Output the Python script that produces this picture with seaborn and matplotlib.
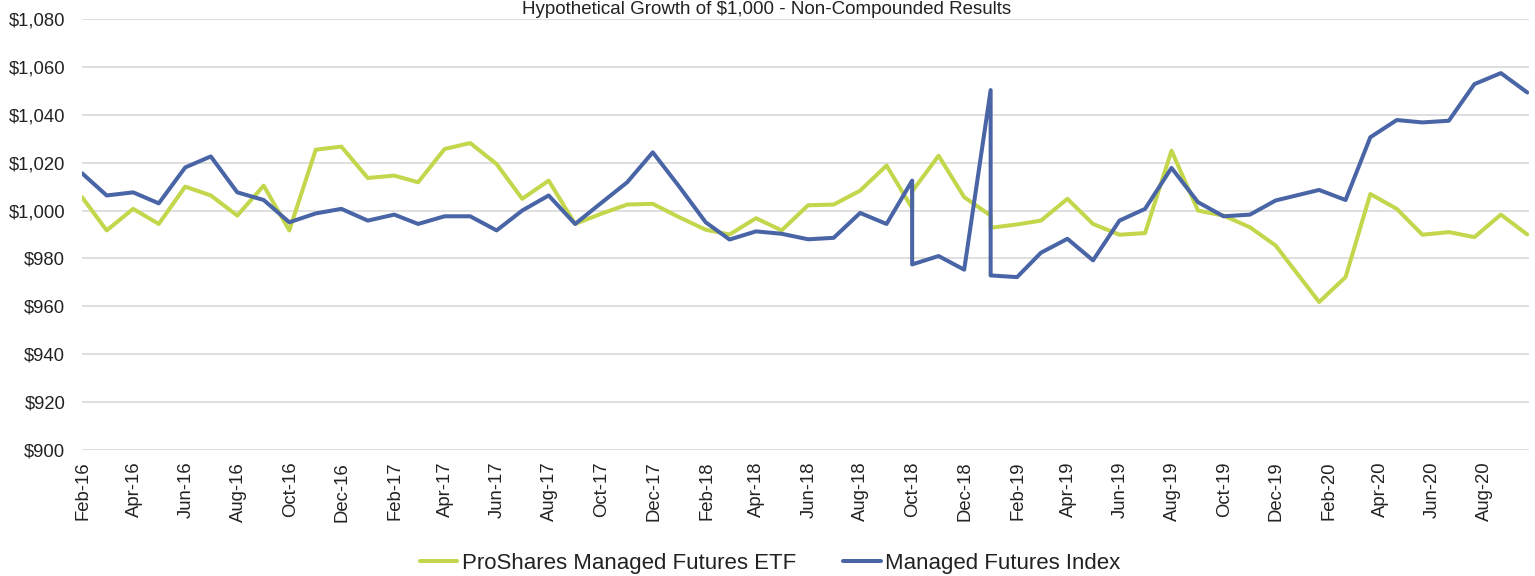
import numpy as np
import pandas as pd
import matplotlib
matplotlib.use("Agg")
import matplotlib.pyplot as plt
import matplotlib.dates as mdates
from matplotlib.lines import Line2D
from matplotlib.ticker import FuncFormatter
import seaborn as sns

# Observation dates: month-end through Nov-19 (two doubled rows), then the 20th in 2020
month_ends = list(pd.date_range("2016-01-31", "2019-11-30", freq="ME").strftime("%Y-%m-%d"))
month_ends.insert(month_ends.index("2018-09-30") + 1, "2018-09-30")
month_ends.insert(month_ends.index("2018-12-31") + 1, "2018-12-31")
late_dates = ["2020-01-20", "2020-02-20", "2020-03-20", "2020-04-20", "2020-05-20",
              "2020-06-20", "2020-07-20", "2020-08-20", "2020-09-20"]
dates = month_ends + late_dates

etf_values = [1005.6, 991.7, 1000.7, 994.4, 1010.0, 1006.3, 997.9, 1010.4, 991.7, 1025.4,
              1026.7, 1013.6, 1014.6, 1011.8, 1025.7, 1028.2, 1019.4, 1004.9, 1012.5, 994.4,
              998.6, 1002.5, 1002.8, 997.2, 992.0, 990.0, 996.8, 991.7, 1002.2, 1002.5,
              1008.3, 1018.8, 1001.0, 1008.0, 1022.9, 1005.6, 997.9, 992.8, 994.2, 995.8,
              1004.9, 994.4, 989.9, 990.6, 1025.0, 1000.0, 997.9, 993.0, 985.4,
              961.8, 972.2, 1006.9, 1000.7, 989.9, 991.0, 988.9, 998.3, 990.0]

index_values = [1015.6, 1006.3, 1007.6, 1003.0, 1018.0, 1022.6, 1007.6, 1004.4, 995.1, 998.8,
                1000.7, 995.8, 998.3, 994.4, 997.6, 997.6, 991.7, 1000.0, 1006.3, 994.4,
                1003.0, 1011.8, 1024.3, 1010.0, 995.1, 987.9, 991.3, 990.3, 988.0, 988.6,
                999.0, 994.4, 1012.5, 977.5, 981.0, 975.3, 1050.3, 972.9, 972.2, 982.4,
                988.2, 979.2, 995.8, 1000.7, 1017.8, 1003.5, 997.6, 998.3, 1004.2,
                1008.6, 1004.4, 1030.6, 1037.8, 1036.8, 1037.5, 1052.8, 1057.4, 1049.3]

series_names = ["ProShares Managed Futures ETF", "Managed Futures Index"]
series_colors = ["#C4D64B", "#4965A6"]
title_text = "Hypothetical Growth of $1,000 - Non-Compounded Results"

df = pd.DataFrame({
    "date": pd.to_datetime(dates * 2),
    "value": etf_values + index_values,
    "series": [series_names[0]] * len(dates) + [series_names[1]] * len(dates),
})

sns.set_theme(style="white")
plt.rcParams["font.family"] = ["Liberation Sans", "DejaVu Sans"]

fig = plt.figure(figsize=(15.35, 5.76), dpi=100)
ax = fig.add_axes([0.0534, 0.21875, 0.9427, 0.7483])

sns.lineplot(data=df, x="date", y="value", hue="series", palette=series_colors,
             estimator=None, sort=False, linewidth=2.9, legend=False, ax=ax)

ax.set_ylim(900, 1080)
ax.set_yticks(np.arange(900, 1081, 20))
ax.yaxis.set_major_formatter(FuncFormatter(lambda v, p: "${:,.0f}".format(v)))
ax.set_xlim(pd.Timestamp("2016-01-31"), pd.Timestamp("2020-09-22"))
ax.xaxis.set_major_locator(mdates.MonthLocator(bymonth=[2, 4, 6, 8, 10, 12]))
ax.xaxis.set_major_formatter(mdates.DateFormatter("%b-%y"))
ax.tick_params(axis="x", labelrotation=90, length=0, pad=8.5, labelsize=13.3, colors="#222222")
ax.tick_params(axis="y", length=0, pad=12, labelsize=13.3, colors="#222222")
for lab in ax.get_xticklabels():
    lab.set_verticalalignment("top")

ax.grid(axis="y", color="#d9d9d9", linewidth=1.2)
ax.set_axisbelow(True)
for s in ax.spines.values():
    s.set_visible(False)
ax.set_xlabel("")
ax.set_ylabel("")

# title sits right at the top edge, just above the $1,080 gridline
fig.text(767 / 1535, 1 - 14 / 576, title_text, ha="center", va="baseline",
         fontsize=13.5, color="#222222")

handles = [Line2D([0], [0], color=c, linewidth=2.9) for c in series_colors]
fig.legend(handles, series_names, loc="center", bbox_to_anchor=(770 / 1535, 1 - 563 / 576),
           ncol=2, frameon=False, fontsize=16, handlelength=1.7, handletextpad=0.2,
           columnspacing=2.1, labelcolor="#222222")

fig.savefig("out.png", dpi=100)
